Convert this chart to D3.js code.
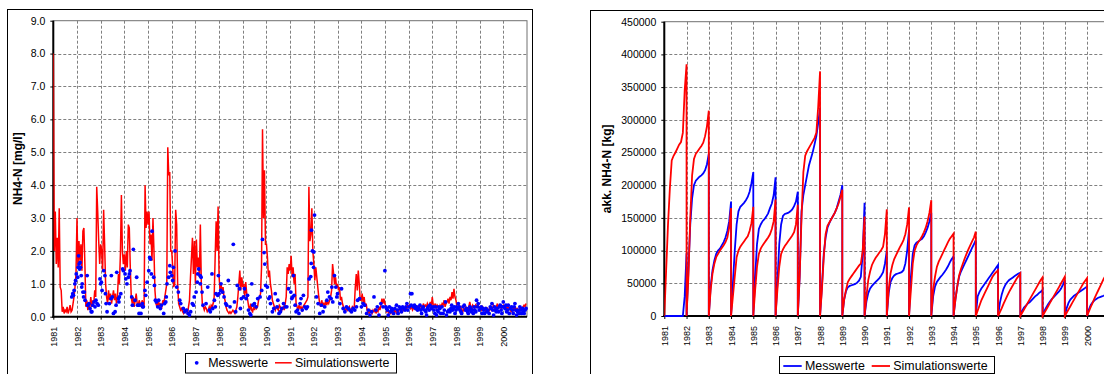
<!DOCTYPE html>
<html><head><meta charset="utf-8">
<script src="https://cdn.jsdelivr.net/npm/d3@7"></script>
<style>
html,body{margin:0;padding:0;background:#fff;}
svg{display:block;font-family:Arial,"Liberation Sans",sans-serif;}
</style></head>
<body>
<svg id="c" width="1104" height="374"></svg>
<script>
// ---------- DATA ----------
const yearLabels = ["1981","1982","1983","1984","1985","1986","1987","1988","1989","1990",
  "1991","1992","1993","1994","1995","1996","1997","1998","1999","2000"];
const seriesNames = ["Messwerte","Simulationswerte"];
const concTicks = [0,1,2,3,4,5,6,7,8,9];
const loadTicks = [0,50000,100000,150000,200000,250000,300000,350000,400000,450000];

// Simulated NH4-N concentration [mg/l], half-month values per year (24 per year)
const simConcByYear = [
 [8.0,2.0,3.2,1.6,2.4,1.5,3.3,0.9,0.8,0.15,0.3,0.1,0.2,0.15,0.3,0.1,0.2,0.35,0.15,0.2,0.4,0.6,0.9,1.3],
 [3.0,1.5,2.3,1.7,2.2,1.4,2.6,2.7,1.6,0.3,0.5,0.2,0.4,0.3,0.6,0.3,0.5,0.4,0.8,0.6,3.95,3.2,2.3,1.6],
 [2.2,2.0,1.4,3.25,2.2,1.0,0.6,0.4,0.8,0.5,0.7,0.4,0.6,0.8,0.5,0.7,0.4,0.6,1.3,1.0,1.9,3.7,2.0,1.6],
 [1.9,1.4,2.0,1.5,2.8,2.7,1.5,0.6,0.4,0.6,0.3,0.5,0.7,0.4,0.3,0.5,0.4,0.3,0.5,0.4,0.3,4.0,2.7,3.2],
 [2.8,3.2,2.2,2.5,1.7,3.0,2.0,0.8,0.4,0.3,0.5,0.3,0.4,0.35,0.3,0.5,0.4,0.6,0.8,1.0,5.15,4.3,4.4,2.0],
 [2.0,1.5,0.9,1.0,3.25,2.8,1.0,0.4,0.3,0.2,0.25,0.15,0.1,0.2,0.15,0.2,0.1,0.3,0.5,1.2,1.8,2.4,1.3,2.3],
 [1.0,2.35,1.5,1.8,1.2,2.8,1.0,0.4,0.3,0.2,0.3,0.25,0.15,0.2,0.3,0.2,0.35,0.3,0.4,0.6,1.8,2.9,2.0,3.35],
 [1.2,0.8,1.0,0.7,0.9,0.6,0.5,0.3,0.2,0.15,0.1,0.15,0.1,0.15,0.2,0.15,0.1,0.2,0.3,0.6,1.0,1.4,0.8,1.2],
 [0.9,1.0,0.6,1.05,0.7,0.5,0.3,0.2,0.4,0.2,0.15,0.3,0.2,0.35,0.25,0.3,0.5,0.6,0.7,1.5,5.7,3.0,4.45,2.2],
 [2.2,1.8,1.2,1.4,1.0,0.8,0.5,0.4,0.3,0.2,0.3,0.25,0.2,0.35,0.3,0.15,0.25,0.3,0.2,0.4,0.6,1.5,1.3,1.6],
 [1.4,1.85,1.2,1.5,1.0,1.3,0.4,0.3,0.2,0.35,0.25,0.3,0.2,0.3,0.35,0.4,0.45,0.5,0.6,3.95,2.3,2.5,3.3,2.0],
 [1.6,1.1,1.5,1.2,0.9,0.6,0.4,0.3,0.5,0.35,0.4,0.3,0.5,0.35,0.45,0.4,0.5,0.6,0.8,1.6,1.3,1.0,1.2,0.9],
 [1.0,0.8,0.9,0.5,0.6,0.4,0.3,0.25,0.15,0.3,0.2,0.25,0.3,0.15,0.2,0.3,0.25,0.3,0.9,1.3,0.8,1.4,1.0,0.5],
 [0.5,0.7,0.4,0.6,0.3,0.4,0.2,0.15,0.1,0.2,0.15,0.1,0.2,0.15,0.25,0.1,0.2,0.15,0.3,0.2,0.35,0.55,0.4,0.55],
 [0.4,0.3,0.15,0.2,0.1,0.15,0.1,0.2,0.15,0.1,0.2,0.15,0.1,0.2,0.15,0.25,0.2,0.15,0.3,0.2,0.25,0.3,0.2,0.35],
 [0.3,0.35,0.25,0.3,0.2,0.25,0.3,0.2,0.35,0.25,0.3,0.2,0.35,0.3,0.25,0.4,0.3,0.35,0.3,0.4,0.3,0.35,0.45,0.3],
 [0.6,0.35,0.3,0.4,0.25,0.35,0.3,0.2,0.35,0.3,0.4,0.35,0.5,0.3,0.4,0.45,0.55,0.4,0.6,0.5,0.75,0.55,0.85,0.6],
 [0.5,0.3,0.2,0.35,0.25,0.3,0.2,0.15,0.25,0.2,0.3,0.25,0.2,0.3,0.45,0.3,0.25,0.35,0.3,0.25,0.35,0.3,0.4,0.3],
 [0.3,0.25,0.2,0.3,0.25,0.2,0.15,0.2,0.25,0.15,0.2,0.3,0.2,0.25,0.35,0.3,0.2,0.3,0.4,0.25,0.35,0.3,0.25,0.3],
 [0.35,0.3,0.25,0.3,0.2,0.35,0.25,0.2,0.15,0.2,0.25,0.2,0.3,0.15,0.25,0.2,0.15,0.3,0.2,0.25,0.3,0.35,0.3,0.4]
];

// Measured NH4-N concentration: [decimal year, mg/l]
const messConc = [
 [1981.78,0.6],[1981.82,0.7],[1981.85,0.65],[1981.88,0.8],[1981.91,1.0],[1981.94,1.1],[1981.97,1.3],
 [1982.03,1.2],[1982.05,1.5],[1982.07,1.85],[1982.09,1.6],[1982.11,1.45],[1982.13,1.65],[1982.15,1.5],[1982.18,1.25],[1982.2,0.9],[1982.22,1.0],[1982.25,0.75],[1982.28,0.6],[1982.31,0.75],[1982.34,0.5],[1982.43,1.25],[1982.45,0.35],[1982.5,0.4],[1982.55,0.25],[1982.6,0.15],[1982.63,0.15],[1982.67,0.35],[1982.72,0.45],[1982.76,0.3],[1982.8,0.5],[1982.85,0.4],[1982.9,0.35],[1982.97,1.15],
 [1983.0,1.0],[1983.03,1.05],[1983.06,0.8],[1983.13,1.4],[1983.18,1.25],[1983.2,0.7],[1983.23,0.4],[1983.27,0.15],[1983.37,0.4],[1983.44,0.55],[1983.45,1.25],[1983.49,0.6],[1983.54,0.1],[1983.61,0.15],[1983.65,0.35],[1983.68,1.35],[1983.75,0.55],[1983.79,0.6],[1983.77,0.45],[1983.85,0.7],[1983.93,1.45],[1983.96,1.4],
 [1984.03,1.3],[1984.06,1.15],[1984.11,1.0],[1984.17,1.2],[1984.21,1.3],[1984.24,1.4],[1984.31,0.6],[1984.34,0.35],[1984.38,2.05],[1984.45,0.5],[1984.52,1.2],[1984.56,0.35],[1984.62,0.1],[1984.63,0.35],[1984.7,0.1],[1984.76,0.4],[1984.8,0.3],[1984.77,0.3],[1984.87,0.8],[1984.9,0.65],
 [1984.96,1.05],[1985.03,1.4],[1985.07,1.8],[1985.1,1.75],[1985.14,1.3],[1985.17,2.6],[1985.24,1.2],[1985.27,0.95],[1985.31,0.5],[1985.35,0.45],[1985.41,0.3],[1985.45,0.5],[1985.52,0.25],[1985.56,0.35],[1985.66,0.1],[1985.7,0.4],[1985.75,0.45],[1985.77,0.6],[1985.8,1.0],[1985.87,1.2],[1985.92,1.55],[1985.94,1.35],
 [1986.0,1.25],[1986.04,1.1],[1986.07,1.5],[1986.14,2.0],[1986.21,0.9],[1986.28,0.75],[1986.34,0.5],[1986.38,0.4],[1986.49,0.25],[1986.55,0.15],[1986.63,0.2],[1986.69,0.1],[1986.75,0.05],[1986.8,0.15],[1986.87,0.4],[1986.92,0.35],
 [1986.95,0.6],[1987.03,0.75],[1987.08,1.05],[1987.1,1.3],[1987.14,1.45],[1987.2,1.25],[1987.21,1.0],[1987.24,1.2],[1987.28,0.75],[1987.32,0.35],[1987.45,0.4],[1987.52,0.9],[1987.59,0.2],[1987.63,0.15],[1987.7,1.3],[1987.73,0.25],[1987.8,0.5],[1987.84,0.3],[1987.87,0.7],[1987.94,0.65],[1987.97,1.25],
 [1988.0,0.7],[1988.07,0.8],[1988.08,1.0],[1988.15,0.75],[1988.21,0.6],[1988.28,0.4],[1988.32,0.35],[1988.39,1.1],[1988.46,0.3],[1988.6,2.2],[1988.65,0.45],[1988.7,0.15],[1988.77,0.95],[1988.86,0.85],[1988.9,0.25],[1988.94,0.55],
 [1989.03,0.6],[1989.07,0.85],[1989.14,0.55],[1989.2,0.65],[1989.24,0.2],[1989.3,0.1],[1989.34,0.05],[1989.38,1.0],[1989.42,0.35],[1989.49,0.4],[1989.56,0.3],[1989.63,0.55],[1989.73,0.6],[1989.8,0.8],[1989.83,2.35],[1989.9,1.95],[1989.93,1.6],
 [1989.97,0.95],[1990.04,0.9],[1990.1,0.55],[1990.14,0.6],[1990.17,0.4],[1990.25,0.15],[1990.31,0.25],[1990.37,0.7],[1990.45,0.3],[1990.48,0.5],[1990.53,0.1],[1990.59,0.15],[1990.65,0.25],[1990.72,0.4],[1990.79,0.3],[1990.86,0.3],[1990.93,0.85],
 [1991.03,0.75],[1991.07,0.55],[1991.11,0.6],[1991.14,1.25],[1991.17,0.65],[1991.21,0.35],[1991.25,0.15],[1991.31,0.2],[1991.37,0.1],[1991.42,0.4],[1991.46,0.55],[1991.51,0.2],[1991.56,0.65],[1991.62,0.3],[1991.68,0.25],[1991.73,0.3],[1991.8,1.15],[1991.87,1.22],[1991.89,1.62],[1991.9,2.63],[1991.94,2.0],[1991.99,1.5],[1992.0,1.97],[1992.03,3.09],
 [1992.11,0.6],[1992.18,0.4],[1992.25,0.1],[1992.32,0.35],[1992.39,0.15],[1992.46,0.3],[1992.55,0.5],[1992.59,0.75],[1992.66,0.6],[1992.73,0.55],[1992.76,0.9],[1992.8,0.45],[1992.87,1.25],[1992.93,0.9],[1992.97,0.6],
 [1993.0,0.7],[1993.1,0.4],[1993.17,0.85],[1993.24,0.25],[1993.31,0.15],[1993.38,0.3],[1993.45,0.25],[1993.52,0.2],[1993.59,0.15],[1993.66,0.25],[1993.73,0.2],[1993.8,0.3],[1993.85,0.5],[1993.93,0.55],
 [1994.01,0.3],[1994.08,0.4],[1994.15,0.35],[1994.23,0.1],[1994.3,0.2],[1994.37,0.05],[1994.44,0.15],[1994.54,0.6],[1994.62,0.2],[1994.68,0.3],[1994.75,0.05],[1994.83,0.4],[1994.92,0.3],[1995.0,1.4],
 [1995.04,0.3],[1995.07,0.25],[1995.11,0.2],[1995.14,0.05],[1995.19,0.3],[1995.24,0.15],[1995.28,0.25],[1995.32,0.2],[1995.37,0.1],[1995.42,0.25],[1995.49,0.35],[1995.53,0.2],[1995.56,0.1],[1995.61,0.3],[1995.66,0.25],[1995.7,0.15],[1995.75,0.3],[1995.8,0.25],[1995.85,0.2],[1995.89,0.3],[1995.93,0.4],[1995.97,0.2],
 [1996.03,0.3],[1996.08,0.7],[1996.11,0.35],[1996.14,0.7],[1996.2,0.3],[1996.25,0.35],[1996.3,0.25],[1996.34,0.3],[1996.38,0.2],[1996.43,0.25],[1996.48,0.35],[1996.52,0.2],[1996.55,0.1],[1996.59,0.25],[1996.62,0.3],[1996.68,0.2],[1996.73,0.15],[1996.76,0.05],[1996.8,0.25],[1996.83,0.3],[1996.87,0.2],[1996.9,0.35],[1996.97,0.25],
 [1997.03,0.3],[1997.07,0.2],[1997.11,0.1],[1997.14,0.3],[1997.18,0.05],[1997.21,0.2],[1997.25,0.15],[1997.28,0.3],[1997.32,0.25],[1997.36,0.1],[1997.41,0.3],[1997.46,0.1],[1997.51,0.2],[1997.56,0.45],[1997.6,0.05],[1997.65,0.15],[1997.7,0.2],[1997.75,0.15],[1997.79,0.25],[1997.82,0.35],[1997.86,0.2],[1997.89,0.25],[1997.93,0.3],[1997.96,0.1],
 [1998.0,0.2],[1998.03,0.3],[1998.07,0.25],[1998.1,0.4],[1998.14,0.3],[1998.17,0.2],[1998.21,0.15],[1998.24,0.1],[1998.3,0.3],[1998.35,0.35],[1998.4,0.2],[1998.45,0.25],[1998.49,0.15],[1998.52,0.1],[1998.56,0.2],[1998.59,0.3],[1998.63,0.25],[1998.66,0.15],[1998.7,0.2],[1998.73,0.1],[1998.77,0.3],[1998.8,0.2],[1998.84,0.15],[1998.87,0.5],[1998.91,0.3],[1998.94,0.4],[1998.98,0.2],
 [1999.03,0.25],[1999.07,0.3],[1999.1,0.1],[1999.14,0.25],[1999.17,0.2],[1999.21,0.1],[1999.26,0.25],[1999.31,0.15],[1999.35,0.2],[1999.4,0.1],[1999.45,0.3],[1999.49,0.25],[1999.52,0.4],[1999.56,0.2],[1999.59,0.05],[1999.63,0.3],[1999.66,0.2],[1999.7,0.15],[1999.74,0.25],[1999.8,0.15],[1999.84,0.3],[1999.87,0.35],[1999.91,0.2],[1999.94,0.1],[1999.97,0.3],
 [2000.0,0.45],[2000.04,0.3],[2000.07,0.25],[2000.11,0.35],[2000.14,0.15],[2000.18,0.2],[2000.21,0.35],[2000.25,0.1],[2000.3,0.25],[2000.35,0.3],[2000.39,0.2],[2000.42,0.1],[2000.46,0.3],[2000.49,0.4],[2000.53,0.2],[2000.56,0.05],[2000.6,0.15],[2000.63,0.2],[2000.67,0.1],[2000.7,0.3],[2000.74,0.2],[2000.77,0.1],[2000.81,0.25],[2000.85,0.15],[2000.88,0.1],[2000.92,0.2],[2000.96,0.25]
];

// Accumulated load [kg], monthly values within each year (13 per year, Jan 1 .. Dec 31)
const messLoadByYear = [
 [0,0,0,0,0,0,0,0,0,0,0,30000,96000],
 [0,70000,140000,180000,200000,207000,210000,213000,215000,218000,223000,232000,248000],
 [0,45000,70000,85000,95000,100000,103000,108000,113000,120000,130000,145000,175000],
 [0,50000,100000,140000,160000,167000,170000,173000,177000,182000,190000,203000,220000],
 [0,60000,110000,133000,140000,145000,148000,152000,157000,165000,172000,185000,212000],
 [0,50000,110000,140000,153000,156000,157000,158000,160000,163000,168000,175000,190000],
 [0,60000,160000,185000,200000,215000,230000,240000,250000,262000,275000,295000,318000],
 [0,45000,95000,120000,135000,142000,148000,153000,158000,165000,175000,185000,200000],
 [0,25000,38000,44000,46000,47000,48000,49000,51000,54000,60000,95000,173000],
 [0,22000,35000,42000,46000,49000,52000,55000,58000,62000,67000,80000,100000],
 [0,35000,52000,58000,62000,64000,65000,66000,67000,70000,80000,100000,132000],
 [0,60000,95000,108000,112000,114000,116000,118000,122000,128000,135000,145000,158000],
 [0,30000,45000,52000,56000,60000,63000,67000,71000,76000,82000,87000,91000],
 [0,25000,45000,60000,68000,74000,80000,86000,92000,98000,104000,110000,116000],
 [0,30000,37000,42000,46000,50000,54000,58000,62000,66000,70000,74000,78000],
 [0,20000,33000,42000,48000,52000,55000,57000,59000,61000,63000,65000,66000],
 [0,8000,13000,16000,19000,21000,24000,27000,30000,32000,35000,37000,40000],
 [0,8000,13000,18000,22000,26000,29000,32000,35000,38000,42000,48000,55000],
 [0,12000,20000,25000,28000,31000,33000,35000,37000,39000,41000,43000,45000],
 [0,10000,17000,21000,24000,26000,28000,29000,30000,31000,33000,36000,40000]
];
const simLoadByYear = [
 [0,70000,140000,195000,238000,245000,250000,256000,262000,266000,280000,345000,385000],
 [0,60000,150000,215000,240000,248000,252000,256000,260000,265000,275000,290000,314000],
 [0,40000,65000,80000,90000,95000,100000,104000,108000,113000,120000,135000,165000],
 [0,30000,60000,90000,100000,106000,110000,114000,118000,122000,130000,142000,167000],
 [0,40000,75000,95000,103000,108000,112000,116000,120000,125000,133000,145000,178000],
 [0,40000,75000,95000,102000,107000,111000,115000,119000,123000,128000,140000,170000],
 [0,60000,150000,220000,245000,252000,257000,262000,267000,272000,280000,320000,374000],
 [0,40000,90000,125000,138000,143000,148000,153000,158000,165000,172000,182000,193000],
 [0,25000,40000,52000,57000,61000,65000,69000,73000,77000,80000,100000,152000],
 [0,30000,55000,68000,78000,84000,89000,93000,97000,101000,106000,125000,163000],
 [0,40000,65000,78000,87000,93000,99000,105000,110000,116000,125000,140000,166000],
 [0,40000,80000,100000,108000,113000,117000,122000,128000,135000,145000,158000,177000],
 [0,40000,60000,75000,83000,89000,95000,101000,107000,113000,118000,122000,126000],
 [0,25000,45000,62000,72000,80000,88000,95000,102000,108000,114000,120000,129000],
 [0,8000,16000,24000,30000,36000,42000,48000,54000,60000,64000,67000,70000],
 [0,6000,12000,19000,25000,31000,37000,42000,47000,52000,57000,61000,65000],
 [0,5000,10000,15000,20000,25000,30000,35000,40000,45000,50000,55000,59000],
 [0,5000,10000,15000,20000,25000,30000,35000,40000,45000,50000,55000,60000],
 [0,5000,10000,15000,20000,25000,30000,35000,40000,45000,50000,54000,58000],
 [0,7000,14000,20000,27000,33000,39000,45000,51000,57000,62000,66000,70000]
];

// ---------- DRAW ----------
const svg = d3.select("#c");
const BLUE = "#0000ff", RED = "#ff0000", GRID = "#808080";
const firstYear = +yearLabels[0];

function chartFrame(x, y, w, h) {
  svg.append("rect").attr("x", x).attr("y", y).attr("width", w).attr("height", h)
    .attr("fill", "#fff").attr("stroke", "#000").attr("stroke-width", 1);
}

function panel(opt) {
  const {x0, x1, y0, y1, yMax, yTicks, yFmt, yTitle, yTitleX, clipId} = opt;
  const xs = d3.scaleLinear().domain([firstYear, firstYear + 20]).range([x0, x1]);
  const ys = d3.scaleLinear().domain([0, yMax]).range([y1, y0]);
  const g = svg.append("g");
  g.append("rect").attr("x", x0).attr("y", y0).attr("width", x1 - x0).attr("height", y1 - y0)
    .attr("fill", "#fff").attr("stroke", "#707070").attr("stroke-width", 1);
  g.append("g").selectAll("line").data(yTicks.slice(1, -1)).join("line")
    .attr("x1", x0).attr("x2", x1).attr("y1", d => Math.round(ys(d)) + 0.5).attr("y2", d => Math.round(ys(d)) + 0.5)
    .attr("stroke", GRID).attr("stroke-width", 1).attr("stroke-dasharray", "3,2");
  g.append("g").selectAll("line").data(yearLabels.slice(1).map(Number)).join("line")
    .attr("x1", d => Math.round(xs(d)) + 0.5).attr("x2", d => Math.round(xs(d)) + 0.5)
    .attr("y1", y0).attr("y2", y1)
    .attr("stroke", GRID).attr("stroke-width", 1).attr("stroke-dasharray", "3,2");
  g.append("clipPath").attr("id", clipId).append("rect")
    .attr("x", x0).attr("y", y0 - 2).attr("width", x1 - x0).attr("height", y1 - y0 + 4);
  const ya = d3.axisLeft(ys).tickValues(yTicks).tickFormat(yFmt).tickSize(3).tickPadding(5);
  const yg = g.append("g").attr("transform", `translate(${x0},0)`).call(ya);
  yg.select(".domain").remove();
  yg.selectAll("text").attr("font-size", "10.5px").attr("fill", "#000").attr("font-family", "Arial,'Liberation Sans',sans-serif");
  const xa = d3.axisBottom(xs).tickValues(yearLabels.map(Number)).tickFormat(d => yearLabels[d - firstYear]).tickSize(3);
  const xg = g.append("g").attr("transform", `translate(0,${y1})`).call(xa);
  xg.select(".domain").remove();
  xg.selectAll("text").attr("font-size", "9px").attr("fill", "#000")
    .attr("font-family", "Arial,'Liberation Sans',sans-serif")
    .attr("transform", "rotate(-90)").attr("text-anchor", "end")
    .attr("x", -10).attr("y", 0).attr("dy", "0.35em");
  svg.append("text").attr("transform", `translate(${yTitleX},${(y0 + y1) / 2}) rotate(-90)`)
    .attr("text-anchor", "middle").attr("dy", "0.35em")
    .attr("font-size", "12px").attr("font-weight", "bold").text(yTitle);
  // axis lines (drawn before the data so zero values stay visible)
  g.append("line").attr("x1", x0).attr("x2", x0).attr("y1", y0).attr("y2", y1 + 1)
    .attr("stroke", "#000").attr("stroke-width", 2);
  g.append("line").attr("x1", x0 - 1).attr("x2", x1).attr("y1", y1).attr("y2", y1)
    .attr("stroke", "#000").attr("stroke-width", 2);
  return {xs, ys, g, x0, x1, y0, y1};
}

// ----- Left chart -----
chartFrame(7.5, 9.5, 525, 400);
const L = panel({x0: 53.3, x1: 527, y0: 20.7, y1: 316.7, yMax: 9, yTicks: concTicks,
  yFmt: d3.format(".1f"), yTitle: "NH4-N [mg/l]", yTitleX: 17.5, clipId: "clipL"});

const simConcPts = [];
simConcByYear.forEach((row, i) => row.forEach((v, j) => simConcPts.push([firstYear + i + j / row.length, v])));
L.g.append("path").datum(simConcPts)
  .attr("clip-path", "url(#clipL)")
  .attr("fill", "none").attr("stroke", RED).attr("stroke-width", 1.5).attr("stroke-linejoin", "miter")
  .attr("d", d3.line().x(d => L.xs(d[0])).y(d => L.ys(d[1])));
L.g.append("g").selectAll("circle").data(messConc).join("circle")
  .attr("cx", d => L.xs(d[0])).attr("cy", d => L.ys(d[1])).attr("r", 1.9).attr("fill", BLUE);

// legend left
const lg = svg.append("g");
lg.append("rect").attr("x", 185.5).attr("y", 353.5).attr("width", 211).attr("height", 19.5)
  .attr("fill", "#fff").attr("stroke", "#000");
lg.append("circle").attr("cx", 196.7).attr("cy", 362.8).attr("r", 1.9).attr("fill", BLUE);
lg.append("text").attr("x", 208.3).attr("y", 362.8).attr("dy", "0.35em").attr("font-size", "12.4px").text(seriesNames[0]);
lg.append("line").attr("x1", 275).attr("x2", 291.7).attr("y1", 362.8).attr("y2", 362.8).attr("stroke", RED).attr("stroke-width", 1.5);
lg.append("text").attr("x", 295).attr("y", 362.8).attr("dy", "0.35em").attr("font-size", "12.4px").text(seriesNames[1]);

// ----- Right chart -----
chartFrame(590.5, 10.5, 600, 400);
const R = panel({x0: 664.3, x1: 1109.3, y0: 21.7, y1: 316, yMax: 450000, yTicks: loadTicks,
  yFmt: d3.format("d"), yTitle: "akk. NH4-N [kg]", yTitleX: 606.7, clipId: "clipR"});

function loadPts(byYear) {
  const pts = [];
  byYear.forEach((row, i) => row.forEach((v, j) => pts.push([firstYear + i + j / (row.length - 1), v])));
  return pts;
}
const lineR = d3.line().x(d => R.xs(d[0])).y(d => R.ys(d[1]));
R.g.append("path").datum(loadPts(messLoadByYear)).attr("clip-path", "url(#clipR)")
  .attr("fill", "none").attr("stroke", BLUE).attr("stroke-width", 1.8).attr("d", lineR);
R.g.append("path").datum(loadPts(simLoadByYear)).attr("clip-path", "url(#clipR)")
  .attr("fill", "none").attr("stroke", RED).attr("stroke-width", 1.8).attr("d", lineR);

// legend right
const rg = svg.append("g");
rg.append("rect").attr("x", 779.5).attr("y", 356.5).attr("width", 215).attr("height", 17)
  .attr("fill", "#fff").attr("stroke", "#000");
rg.append("line").attr("x1", 783.3).attr("x2", 801.7).attr("y1", 366).attr("y2", 366).attr("stroke", BLUE).attr("stroke-width", 1.8);
rg.append("text").attr("x", 805).attr("y", 366).attr("dy", "0.35em").attr("font-size", "12.4px").text(seriesNames[0]);
rg.append("line").attr("x1", 871.7).attr("x2", 890).attr("y1", 366).attr("y2", 366).attr("stroke", RED).attr("stroke-width", 1.8);
rg.append("text").attr("x", 893.3).attr("y", 366).attr("dy", "0.35em").attr("font-size", "12.4px").text(seriesNames[1]);
</script>
</body></html>
